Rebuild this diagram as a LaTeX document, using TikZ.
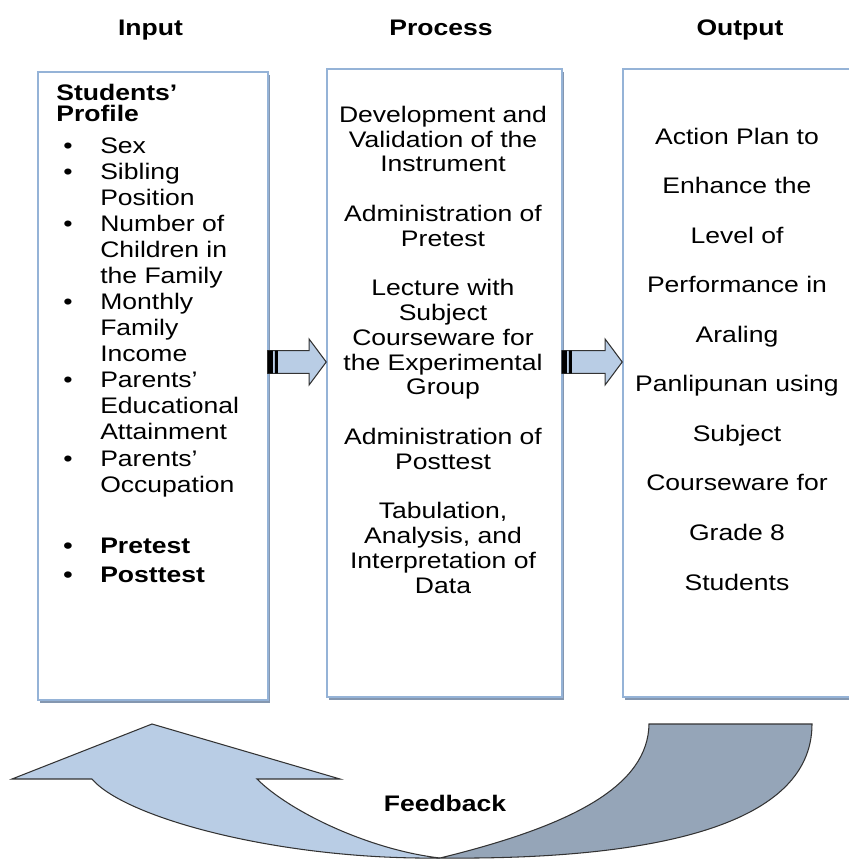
\documentclass[tikz,border=0pt]{standalone}
\usepackage{fontspec}
\setmainfont{Liberation Sans}[FakeStretch=1.18]
\usepackage{tikz}
\usetikzlibrary{positioning,calc,shadows}

\definecolor{boxline}{HTML}{95B3D7}
\definecolor{boxshadow}{HTML}{8497B0}
\definecolor{arrowfill}{HTML}{B9CDE5}
\definecolor{returnfill}{HTML}{95A5B8}
\definecolor{edgeline}{HTML}{333333}

% bullet and hanging indent for the input list
\newcommand{\itm}{\hspace*{4pt}\makebox[21pt][l]{\textbullet}}
\newcommand{\cont}{\hspace*{25pt}}

% block arrow from one stage to the next, two bars at its tail
\newcommand{\flowarrow}[2]{%
  \draw[edgeline, fill=arrowfill, line width=0.6pt]
    let \p1=($(#1.east)+(-1,0)$), \p2=($(#2.west)+(0,-21)$) in
    (\x1,\y2-6.5pt) -- (\x2-9.7pt,\y2-6.5pt) -- (\x2-9.7pt,\y2-13pt) -- (\x2,\y2)
    -- (\x2-9.7pt,\y2+13pt) -- (\x2-9.7pt,\y2+6.5pt) -- (\x1,\y2+6.5pt) -- cycle;
  \fill[black]
    let \p1=($(#1.east)+(-1,0)$), \p2=($(#2.west)+(0,-21)$) in
    (\x1,\y2-6.5pt) rectangle (\x1+2.9pt,\y2+6.5pt)
    (\x1+4pt,\y2-6.5pt) rectangle (\x1+5.7pt,\y2+6.5pt);
}

\tikzset{
  stage/.style={draw=boxline, line width=0.9pt, fill=white, inner sep=0pt,
    drop shadow={fill=boxshadow, opacity=1, shadow xshift=1.2pt, shadow yshift=-1.5pt}},
  head/.style={font=\bfseries\fontsize{12.8}{14}\selectfont, anchor=base, inner sep=0pt},
  listtext/.style={font=\fontsize{12.8}{14.8}\selectfont, align=left, anchor=base west, inner sep=0pt},
  steptext/.style={font=\fontsize{12.8}{14.1}\selectfont, align=center, anchor=base, inner sep=0pt},
}

\begin{document}
\begin{tikzpicture}[x=0.02cm, y=-0.02cm]
    \useasboundingbox (0,0) rectangle (848,861);

    % The three stages
    \node[stage, minimum width=4.6cm, minimum height=12.56cm] (input) at (153,386) {};
    \node[stage, minimum width=4.7cm, minimum height=12.56cm] (process) at (444.5,383) {};
    \node[stage, minimum width=5cm, minimum height=12.56cm] (output) at (748,383) {};

    % Headings
    \node[head] (inputhead) at (150.5,36) {Input};
    \node[head] (processhead) at (441,36) {Process};
    \node[head] (outputhead) at (740,36) {Output};

    % Arrows between the stages
    \flowarrow{input}{process}
    \flowarrow{process}{output}

    % Input list (base anchor sits on the last line)
    \node[listtext, font=\bfseries\fontsize{12.8}{12.5}\selectfont] (profile) at (56,122)
        {Students’\\Profile};
    \node[listtext] (profileitems) at (56,492)
        {\itm Sex\\
         \itm Sibling\\ \cont Position\\
         \itm Number of\\ \cont Children in\\ \cont the Family\\
         \itm Monthly\\ \cont Family\\ \cont Income\\
         \itm Parents’\\ \cont Educational\\ \cont Attainment\\
         \itm Parents’\\ \cont Occupation};
    \node[listtext, font=\bfseries\fontsize{12.8}{16.5}\selectfont] (tests) at (56,582)
        {\itm Pretest\\ \itm Posttest};

    % Process steps
    \node[steptext] (steps) at (443,593)
        {Development and\\Validation of the\\Instrument\\[14.1pt]
         Administration of\\Pretest\\[14.1pt]
         Lecture with\\Subject\\Courseware for\\the Experimental\\Group\\[14.1pt]
         Administration of\\Posttest\\[14.1pt]
         Tabulation,\\Analysis, and\\Interpretation of\\Data};

    % Output
    \node[steptext, font=\fontsize{12.8}{28.2}\selectfont] (plan) at (737,590)
        {Action Plan to\\Enhance the\\Level of\\Performance in\\Araling\\
         Panlipunan using\\Subject\\Courseware for\\Grade 8\\Students};

    % Feedback arrow: dark return part, then the light head on top
    \draw[edgeline, fill=returnfill, line width=0.6pt]
        (649,724) -- (812,724) .. controls (812,830) and (640,860) .. (440,858)
        .. controls (575,825) and (648,785) .. (649,724) -- cycle;
    \draw[edgeline, fill=arrowfill, line width=0.6pt]
        (152,724) -- (340,779) -- (257,779)
        .. controls (290,812) and (370,850) .. (440,858)
        .. controls (280,860) and (125,818) .. (92,779)
        -- (12,779) -- cycle;
    \node[head] (feedback) at (445,811) {Feedback};
\end{tikzpicture}
\end{document}
